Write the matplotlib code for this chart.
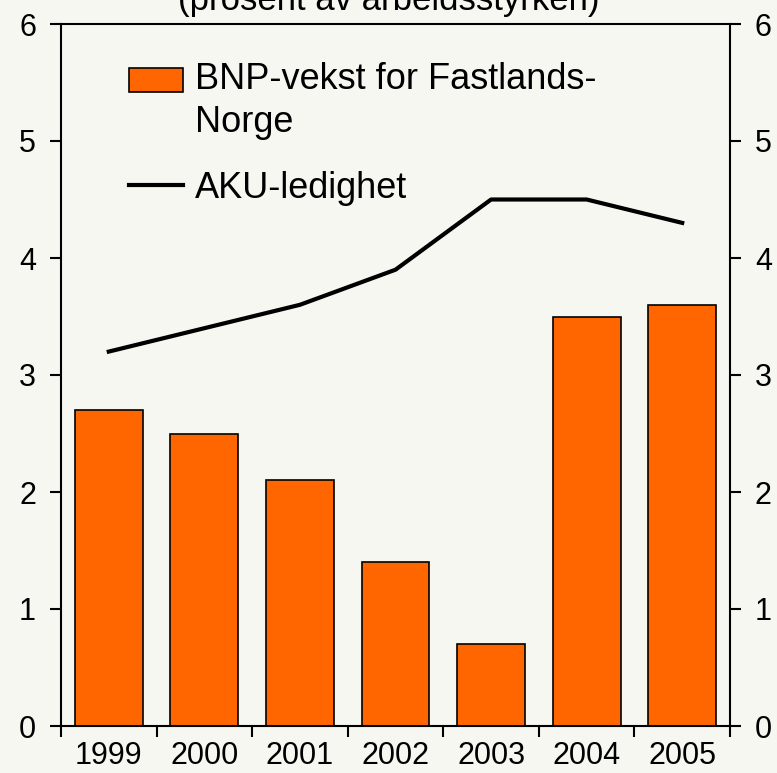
import matplotlib
matplotlib.use('Agg')
import matplotlib.pyplot as plt
from matplotlib.patches import Rectangle
from matplotlib.legend_handler import HandlerPatch
import numpy as np

years = ['1999', '2000', '2001', '2002', '2003', '2004', '2005']
bnp_vekst = [2.7, 2.5, 2.1, 1.4, 0.7, 3.5, 3.6]
aku_ledighet = [3.2, 3.4, 3.6, 3.9, 4.5, 4.5, 4.3]

plt.rcParams['font.family'] = 'Liberation Sans'
bg = '#f7f7f2'

fig = plt.figure(figsize=(7.77, 7.73), dpi=100, facecolor=bg)
ax = fig.add_axes([61 / 777, 1 - 726 / 773, (730 - 61) / 777, (726 - 24) / 773])
ax.set_facecolor(bg)

x = np.arange(len(years))
bars = ax.bar(x, bnp_vekst, width=0.71, color='#ff6600', edgecolor='black', linewidth=1.2,
              label='BNP-vekst for Fastlands-\nNorge', zorder=2)
line, = ax.plot(x, aku_ledighet, color='black', linewidth=3, label='AKU-ledighet', zorder=3)

ax.set_xlim(-0.5, len(years) - 0.5)
ax.set_ylim(0, 6)
ax.set_yticks(range(7))
ax.set_xticks(x)
ax.set_xticklabels(years)
ax.set_xticks(np.arange(-0.5, len(years)), minor=True)
ax.tick_params(axis='x', which='major', length=0, labelsize=22, pad=11)
ax.tick_params(axis='x', which='minor', length=8, width=1.5, direction='out')
ax.tick_params(axis='y', length=8, width=1.5, direction='out', labelsize=22,
               right=True, labelright=True, pad=10)
for s in ax.spines.values():
    s.set_linewidth(1.5)


# lift the bar swatch so it sits beside the first line of the two-line label
def raised_patch(legend, orig_handle, xdescent, ydescent, width, height, fontsize):
    return Rectangle((-xdescent, -ydescent + 15.5), width, height)


bar_handle = bars.patches[0]
leg = ax.legend([bar_handle, line], [bars.get_label(), line.get_label()],
                handler_map={bar_handle: HandlerPatch(patch_func=raised_patch)},
                loc='upper left', bbox_to_anchor=(0.1016, 0.946), frameon=False, fontsize=26,
                borderaxespad=0, borderpad=0,
                handlelength=1.5, handleheight=0.64, handletextpad=0.33, labelspacing=0.85)
for t in leg.get_texts():
    t.set_linespacing(1.3)

fig.text(0.5, 1 - 10 / 773, '(prosent av arbeidsstyrken)', ha='center', va='baseline',
         fontsize=25)

fig.savefig('out.png', dpi=100, facecolor=bg)
